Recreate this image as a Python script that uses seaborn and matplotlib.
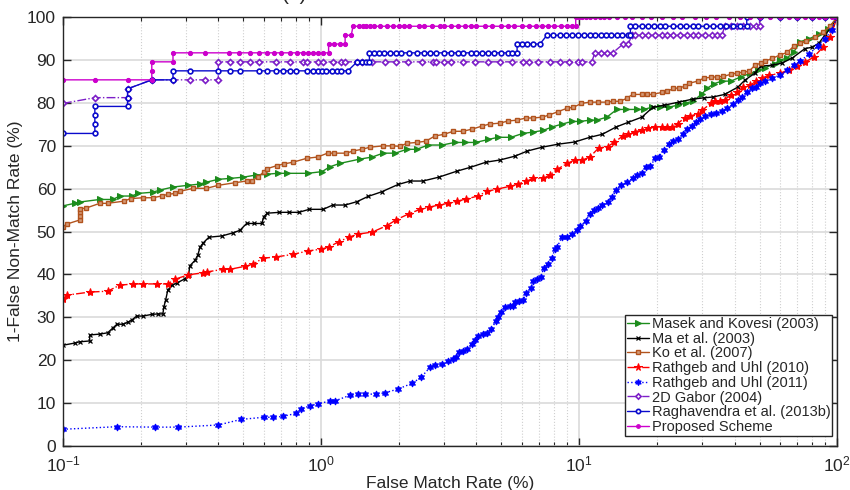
import matplotlib
matplotlib.use("Agg")
import matplotlib.pyplot as plt
import seaborn as sns
import numpy as np
from matplotlib.ticker import LogLocator, NullFormatter

# ROC-style operating points: (False Match Rate %, 1-False Non-Match Rate %)
masek = [(0.1, 56.0), (0.111, 56.6), (0.116, 56.9), (0.139, 57.5), (0.156, 57.5), (0.166, 58.3),
         (0.185, 58.3), (0.195, 58.9), (0.223, 59.2), (0.238, 59.7), (0.267, 60.4), (0.305, 60.8),
         (0.34, 61.1), (0.358, 61.5), (0.40, 62.2), (0.443, 62.4), (0.5, 62.7), (0.56, 63.2),
         (0.62, 63.4), (0.68, 63.6), (0.74, 63.6), (0.89, 63.6), (1.01, 64.0), (1.08, 65.1),
         (1.18, 65.9), (1.41, 66.9), (1.58, 67.4), (1.74, 68.3), (1.94, 68.3), (2.15, 69.2),
         (2.35, 69.2), (2.6, 70.2), (2.95, 70.2), (3.3, 70.8), (3.6, 70.8), (3.98, 70.8),
         (4.45, 71.5), (4.85, 72.0), (5.45, 72.0), (6.05, 72.9), (6.6, 73.2), (7.25, 73.6),
         (7.85, 74.4), (8.6, 75.1), (9.4, 75.7), (10.1, 75.7), (11.0, 76.0), (11.7, 76.0),
         (12.8, 76.7), (14.0, 78.5), (15.2, 78.5), (16.7, 78.5), (17.8, 78.5), (19.1, 79.0),
         (20.6, 79.0), (22.2, 79.0), (24.1, 79.5), (25.9, 80.0), (27.6, 80.4), (30.0, 82.2),
         (31.3, 83.4), (33.3, 84.5), (35.7, 85.1), (38.7, 85.1), (42.3, 86.1), (46.0, 86.9),
         (49.3, 87.6), (52.6, 88.2), (57.3, 89.2), (60.0, 90.0), (64.0, 90.5), (68.0, 92.0),
         (72.0, 94.3), (78.0, 95.0), (85.0, 96.0), (92.0, 97.3), (100.0, 100.0)]

ma = [(0.1, 23.5), (0.111, 24.0), (0.116, 24.3), (0.127, 24.5), (0.127, 25.9), (0.139, 26.1),
      (0.149, 26.4), (0.156, 27.5), (0.162, 28.4), (0.171, 28.4), (0.179, 28.9), (0.185, 29.4),
      (0.193, 30.3), (0.204, 30.3), (0.221, 30.7), (0.234, 30.8), (0.244, 30.8), (0.246, 32.4),
      (0.25, 34.0), (0.255, 36.4), (0.265, 37.5), (0.276, 38.0), (0.297, 39.0), (0.307, 39.9),
      (0.31, 42.0), (0.325, 43.3), (0.333, 44.5), (0.34, 46.4), (0.35, 47.4), (0.368, 48.7),
      (0.414, 49.0), (0.455, 49.7), (0.485, 50.3), (0.515, 51.9), (0.548, 51.9), (0.59, 51.9),
      (0.6, 53.5), (0.62, 54.3), (0.69, 54.5), (0.75, 54.5), (0.82, 54.5), (0.90, 55.2),
      (1.02, 55.2), (1.11, 56.2), (1.24, 56.2), (1.38, 57.0), (1.52, 58.2), (1.72, 59.3),
      (1.99, 61.0), (2.22, 61.8), (2.48, 61.8), (2.86, 62.7), (3.36, 64.1), (3.79, 65.0),
      (4.36, 66.2), (4.93, 66.7), (5.64, 67.6), (6.3, 68.8), (7.2, 69.7), (8.3, 70.4),
      (9.6, 70.9), (11.0, 72.0), (12.3, 72.7), (13.9, 74.4), (15.5, 75.5), (17.5, 76.7),
      (19.3, 79.0), (21.4, 79.5), (24.3, 80.2), (27.5, 80.9), (30.4, 81.2), (33.0, 81.4),
      (36.6, 82.0), (41.2, 83.7), (43.8, 85.3), (47.8, 86.9), (50.5, 88.6), (56.0, 88.8),
      (61.0, 89.3), (67.0, 90.5), (75.0, 92.7), (80.0, 93.0), (85.0, 94.0), (90.0, 96.0),
      (95.0, 97.8), (100.0, 100.0)]

ko = [(0.1, 51.1), (0.104, 51.8), (0.116, 52.7), (0.116, 53.6), (0.116, 54.6), (0.116, 55.3),
      (0.123, 55.5), (0.139, 56.6), (0.149, 56.6), (0.172, 57.1), (0.183, 57.7), (0.204, 57.9),
      (0.223, 57.9), (0.241, 58.3), (0.255, 58.7), (0.272, 58.9), (0.284, 59.4), (0.32, 60.1),
      (0.36, 60.1), (0.40, 60.8), (0.463, 61.4), (0.515, 61.8), (0.54, 61.8), (0.57, 62.8),
      (0.6, 63.9), (0.62, 64.7), (0.675, 65.4), (0.72, 65.8), (0.78, 66.2), (0.88, 67.1),
      (0.97, 67.4), (1.06, 68.3), (1.12, 68.3), (1.25, 68.3), (1.33, 68.8), (1.44, 69.2),
      (1.55, 69.7), (1.74, 70.0), (1.89, 70.0), (2.02, 69.9), (2.15, 70.6), (2.35, 70.8),
      (2.55, 71.1), (2.76, 72.3), (3.0, 72.7), (3.25, 73.4), (3.55, 73.4), (3.84, 73.9),
      (4.2, 74.6), (4.5, 75.1), (4.93, 75.3), (5.3, 75.8), (5.75, 76.0), (6.2, 76.5),
      (6.65, 76.5), (7.2, 76.7), (7.65, 77.2), (8.3, 78.0), (9.0, 78.8), (9.5, 79.0),
      (10.2, 79.9), (11.0, 80.2), (11.8, 80.2), (12.8, 80.2), (13.5, 80.4), (14.4, 80.4),
      (15.3, 81.1), (16.1, 82.0), (17.5, 82.0), (18.3, 82.0), (19.3, 82.0), (21.0, 82.5),
      (21.9, 82.7), (23.2, 83.4), (24.3, 83.5), (25.7, 83.9), (26.7, 84.6), (28.8, 85.1),
      (30.4, 85.8), (32.3, 86.0), (34.3, 86.1), (36.2, 86.2), (38.7, 86.7), (41.0, 87.0),
      (43.3, 87.2), (45.5, 87.4), (48.0, 88.8), (50.5, 89.3), (52.7, 89.8), (56.0, 90.4),
      (60.0, 91.2), (64.0, 91.8), (68.0, 93.3), (72.0, 94.0), (76.0, 94.5), (82.0, 95.3),
      (88.0, 96.5), (94.0, 98.0), (100.0, 100.0)]

rathgeb2010 = [(0.1, 34.3), (0.104, 35.2), (0.127, 35.9), (0.149, 36.1), (0.166, 37.5), (0.187, 37.8),
               (0.204, 37.8), (0.231, 37.8), (0.255, 37.8), (0.272, 38.9), (0.305, 39.9), (0.348, 40.4),
               (0.361, 40.6), (0.417, 41.2), (0.443, 41.2), (0.506, 41.9), (0.545, 42.4), (0.596, 43.8),
               (0.67, 44.1), (0.78, 44.7), (0.89, 45.5), (1.0, 45.9), (1.07, 46.4), (1.17, 47.6),
               (1.28, 48.7), (1.39, 49.4), (1.58, 49.9), (1.8, 51.4), (1.96, 52.8), (2.2, 54.2),
               (2.42, 55.2), (2.62, 55.7), (2.86, 56.2), (3.1, 56.6), (3.36, 57.1), (3.65, 57.6),
               (4.05, 58.3), (4.4, 59.4), (4.8, 59.9), (5.42, 60.6), (5.8, 61.1), (6.25, 61.8),
               (6.65, 62.4), (7.25, 62.4), (7.7, 63.2), (8.2, 64.5), (9.0, 65.9), (9.6, 66.7),
               (10.3, 66.7), (11.0, 67.4), (11.9, 69.5), (12.9, 69.8), (13.7, 70.9), (14.8, 72.3),
               (15.5, 72.8), (16.5, 73.3), (17.5, 73.7), (18.5, 74.1), (19.7, 74.4), (21.0, 74.4),
               (21.9, 74.4), (22.9, 74.5), (24.1, 75.2), (25.7, 76.6), (26.8, 76.9), (28.8, 77.5),
               (30.0, 78.3), (32.3, 79.9), (33.5, 80.5), (35.0, 80.5), (36.6, 80.8), (38.7, 81.8),
               (41.0, 82.5), (43.2, 83.7), (46.0, 84.1), (48.4, 85.1), (51.0, 85.8), (54.5, 86.5),
               (60.0, 86.9), (65.0, 87.8), (70.0, 88.6), (75.0, 89.5), (81.0, 90.7), (88.0, 93.0),
               (94.0, 95.5), (100.0, 100.0)]

rathgeb2011 = [(0.1, 3.9), (0.162, 4.5), (0.227, 4.4), (0.279, 4.4), (0.40, 4.9), (0.49, 6.2),
               (0.60, 6.7), (0.65, 6.7), (0.71, 6.9), (0.80, 7.6), (0.84, 8.7), (0.91, 9.4),
               (0.97, 9.8), (1.08, 10.5), (1.13, 10.5), (1.29, 11.8), (1.39, 12.1), (1.48, 12.1),
               (1.64, 12.1), (1.77, 12.4), (1.99, 13.3), (2.25, 14.6), (2.44, 16.0), (2.65, 18.4),
               (2.76, 18.9), (2.95, 19.1), (3.11, 19.8), (3.25, 20.3), (3.33, 20.8), (3.43, 21.9),
               (3.55, 22.1), (3.68, 22.6), (3.84, 23.7), (3.95, 24.7), (4.07, 25.6), (4.25, 26.1),
               (4.41, 26.3), (4.56, 27.2), (4.77, 29.2), (4.86, 30.0), (5.0, 31.2), (5.17, 32.4),
               (5.42, 32.7), (5.55, 32.7), (5.65, 33.6), (5.85, 33.8), (6.05, 34.0), (6.25, 35.7),
               (6.5, 36.8), (6.65, 38.5), (6.88, 38.9), (7.1, 39.5), (7.3, 41.5), (7.55, 42.4),
               (7.85, 43.8), (8.05, 45.9), (8.2, 46.4), (8.6, 48.7), (8.98, 48.7), (9.4, 49.4),
               (9.78, 50.3), (10.1, 51.3), (10.6, 52.4), (11.0, 54.1), (11.4, 55.0), (11.8, 55.5),
               (12.3, 56.2), (12.9, 56.9), (13.4, 58.0), (13.9, 59.6), (14.5, 60.8), (15.3, 61.5),
               (16.1, 62.4), (16.8, 63.2), (17.5, 63.7), (18.1, 65.0), (18.9, 65.3), (19.7, 67.1),
               (20.3, 67.4), (21.3, 69.0), (22.2, 70.4), (23.0, 71.1), (24.1, 71.5), (25.2, 72.7),
               (26.1, 73.9), (27.3, 74.6), (28.4, 75.5), (29.5, 76.2), (30.8, 76.9), (32.3, 77.4),
               (34.0, 77.6), (35.8, 78.1), (37.4, 78.8), (39.3, 79.7), (41.2, 80.7), (42.7, 81.4),
               (44.6, 82.5), (46.6, 83.4), (48.4, 83.7), (50.3, 84.6), (52.7, 85.1), (56.0, 85.8),
               (60.0, 86.5), (64.0, 87.6), (68.0, 88.8), (72.0, 89.8), (78.0, 91.5), (84.0, 93.3),
               (90.0, 95.0), (95.0, 97.0), (100.0, 100.0)]

gabor = [(0.1, 79.9), (0.133, 81.25), (0.178, 81.25), (0.178, 83.3), (0.221, 85.4), (0.267, 85.4),
         (0.31, 85.4), (0.355, 85.4), (0.40, 85.4), (0.40, 89.6), (0.443, 89.6), (0.485, 89.6),
         (0.53, 89.6), (0.575, 89.6), (0.67, 89.6), (0.76, 89.6), (0.85, 89.6), (0.88, 89.6),
         (0.97, 89.6), (1.02, 89.6), (1.11, 89.6), (1.2, 89.6), (1.24, 89.6), (1.38, 89.6),
         (1.44, 89.6), (1.58, 89.6), (1.77, 89.6), (1.96, 89.6), (2.18, 89.6), (2.46, 89.6),
         (2.72, 89.6), (2.8, 89.6), (3.0, 89.6), (3.2, 89.6), (3.55, 89.6), (3.95, 89.6),
         (4.45, 89.6), (4.93, 89.6), (5.5, 89.6), (6.05, 89.6), (6.4, 89.6), (6.9, 89.6),
         (7.7, 89.6), (8.4, 89.6), (9.1, 89.6), (9.9, 89.6), (10.3, 89.6), (11.2, 89.6),
         (11.5, 91.7), (12.2, 91.7), (12.8, 91.7), (13.5, 91.7), (14.8, 93.75), (15.5, 93.75),
         (16.0, 95.8), (16.5, 95.8), (17.5, 95.8), (18.5, 95.8), (19.7, 95.8), (21.0, 95.8),
         (21.9, 95.8), (23.1, 95.8), (24.6, 95.8), (26.2, 95.8), (27.7, 95.8), (28.9, 95.8),
         (30.8, 95.8), (32.8, 95.8), (34.3, 95.8), (35.8, 95.8), (36.6, 97.9), (38.7, 97.9),
         (41.0, 97.9), (43.3, 97.9), (46.0, 97.9), (48.4, 97.9), (50.0, 97.9), (50.0, 100.0),
         (60.0, 100.0), (70.0, 100.0), (80.0, 100.0), (90.0, 100.0), (100.0, 100.0)]

raghavendra = [(0.1, 72.9), (0.133, 72.9), (0.133, 75.0), (0.133, 77.1), (0.133, 79.2), (0.178, 79.2),
               (0.178, 81.25), (0.178, 83.3), (0.221, 85.4), (0.267, 85.4), (0.267, 87.5), (0.31, 87.5),
               (0.40, 87.5), (0.443, 87.5), (0.485, 87.5), (0.575, 87.5), (0.62, 87.5), (0.67, 87.5),
               (0.71, 87.5), (0.76, 87.5), (0.80, 87.5), (0.88, 87.5), (0.93, 87.5), (0.97, 87.5),
               (1.01, 87.5), (1.05, 87.5), (1.1, 87.5), (1.15, 87.5), (1.2, 87.5), (1.27, 87.5),
               (1.38, 89.6), (1.44, 89.6), (1.5, 89.6), (1.54, 89.6), (1.54, 91.7), (1.6, 91.7),
               (1.68, 91.7), (1.75, 91.7), (1.85, 91.7), (1.95, 91.7), (2.05, 91.7), (2.2, 91.7),
               (2.35, 91.7), (2.5, 91.7), (2.65, 91.7), (2.8, 91.7), (3.0, 91.7), (3.2, 91.7),
               (3.4, 91.7), (3.55, 91.7), (3.8, 91.7), (4.0, 91.7), (4.2, 91.7), (4.45, 91.7),
               (4.7, 91.7), (5.0, 91.7), (5.3, 91.7), (5.5, 91.7), (5.75, 91.7), (5.75, 93.75),
               (6.0, 93.75), (6.3, 93.75), (6.6, 93.75), (7.05, 93.75), (7.5, 95.8), (7.9, 95.8),
               (8.4, 95.8), (8.9, 95.8), (9.4, 95.8), (9.9, 95.8), (10.4, 95.8), (11.0, 95.8),
               (11.5, 95.8), (12.1, 95.8), (12.7, 95.8), (13.3, 95.8), (14.0, 95.8), (14.7, 95.8),
               (15.5, 95.8), (15.8, 95.8), (15.8, 97.9), (16.5, 97.9), (17.5, 97.9), (18.5, 97.9),
               (19.5, 97.9), (20.5, 97.9), (21.5, 97.9), (23.0, 97.9), (24.5, 97.9), (26.0, 97.9),
               (27.5, 97.9), (29.0, 97.9), (31.0, 97.9), (33.0, 97.9), (35.0, 97.9), (37.0, 97.9),
               (39.5, 97.9), (42.0, 97.9), (44.6, 97.9), (44.6, 100.0), (50.0, 100.0), (60.0, 100.0),
               (70.0, 100.0), (80.0, 100.0), (90.0, 100.0), (100.0, 100.0)]

proposed = [(0.1, 85.4), (0.133, 85.4), (0.178, 85.4), (0.221, 85.4), (0.221, 87.5), (0.221, 89.6),
            (0.267, 89.6), (0.267, 91.7), (0.31, 91.7), (0.355, 91.7), (0.44, 91.7), (0.48, 91.7),
            (0.53, 91.7), (0.575, 91.7), (0.62, 91.7), (0.66, 91.7), (0.70, 91.7), (0.76, 91.7),
            (0.81, 91.7), (0.85, 91.7), (0.89, 91.7), (0.93, 91.7), (0.97, 91.7), (1.02, 91.7),
            (1.07, 91.7), (1.07, 93.75), (1.12, 93.75), (1.18, 93.75), (1.24, 93.75), (1.24, 95.8),
            (1.31, 95.8), (1.33, 97.9), (1.4, 97.9), (1.45, 97.9), (1.5, 97.9), (1.55, 97.9),
            (1.6, 97.9), (1.7, 97.9), (1.8, 97.9), (1.9, 97.9), (2.0, 97.9), (2.1, 97.9),
            (2.2, 97.9), (2.4, 97.9), (2.5, 97.9), (2.7, 97.9), (2.9, 97.9), (3.0, 97.9),
            (3.2, 97.9), (3.4, 97.9), (3.6, 97.9), (3.8, 97.9), (4.0, 97.9), (4.3, 97.9),
            (4.6, 97.9), (5.0, 97.9), (5.3, 97.9), (5.6, 97.9), (6.0, 97.9), (6.4, 97.9),
            (6.8, 97.9), (7.2, 97.9), (7.6, 97.9), (8.0, 97.9), (8.5, 97.9), (9.0, 97.9),
            (9.4, 97.9), (9.7, 97.9), (9.7, 100.0), (10.0, 100.0), (10.3, 100.0), (10.6, 100.0),
            (11.0, 100.0), (11.5, 100.0), (12.0, 100.0), (12.5, 100.0), (13.0, 100.0), (14.0, 100.0),
            (15.0, 100.0), (16.0, 100.0), (17.5, 100.0), (19.0, 100.0), (21.0, 100.0), (23.0, 100.0),
            (25.0, 100.0), (28.0, 100.0), (31.0, 100.0), (34.0, 100.0), (38.0, 100.0), (42.0, 100.0),
            (46.0, 100.0), (50.0, 100.0), (55.0, 100.0), (60.0, 100.0), (65.0, 100.0), (70.0, 100.0),
            (75.0, 100.0), (80.0, 100.0), (85.0, 100.0), (90.0, 100.0), (95.0, 100.0), (100.0, 100.0)]

series_labels = ["Masek and Kovesi (2003)", "Ma et al. (2003)", "Ko et al. (2007)",
                 "Rathgeb and Uhl (2010)", "Rathgeb and Uhl (2011)", "2D Gabor (2004)",
                 "Raghavendra et al. (2013b)", "Proposed Scheme"]
series_data = [masek, ma, ko, rathgeb2010, rathgeb2011, gabor, raghavendra, proposed]

y_ticks = list(range(0, 101, 10))

sns.set_style("ticks")
plt.rcParams["font.family"] = ["Liberation Sans", "DejaVu Sans"]
plt.rcParams["mathtext.fontset"] = "custom"
plt.rcParams["mathtext.rm"] = "Liberation Sans"
plt.rcParams["mathtext.it"] = "Liberation Sans"

styles = [
    dict(color="#1c8c1c", linestyle="-", marker=">", markersize=4.2, markerfacecolor="#1c8c1c"),
    dict(color="black", linestyle="-", marker="x", markersize=3.0, markeredgewidth=0.9),
    dict(color="#b2531d", linestyle="-", marker="s", markersize=3.4, markerfacecolor="#d49a78",
         markeredgewidth=1.0),
    dict(color="#ff0000", linestyle="-.", marker="*", markersize=6, markerfacecolor="#ff0000"),
    dict(color="#0000ff", linestyle=":", marker=(6, 1, 0), markersize=5, markerfacecolor="#0000ff"),
    dict(color="#7d1fc8", linestyle="-.", marker="D", markersize=3.0, markerfacecolor="white",
         markeredgewidth=1.2),
    dict(color="#0a0acc", linestyle="-", marker="o", markersize=3.4, markerfacecolor="white",
         markeredgewidth=1.2),
    dict(color="#cc00cc", linestyle="-", marker="o", markersize=3.0, markerfacecolor="#cc00cc"),
]

fig = plt.figure(figsize=(8.5, 4.9), dpi=100)
ax = fig.add_axes([0.074, 0.0898, 0.911, 0.875])

for label, pts, st in zip(series_labels, series_data, styles):
    xs = [p[0] for p in pts]
    ys = [p[1] for p in pts]
    sns.lineplot(x=xs, y=ys, ax=ax, sort=False, estimator=None, label=label,
                 linewidth=1.0, markeredgecolor=st["color"], **st)

ax.set_xscale("log")
ax.set_xlim(0.1, 100)
ax.set_ylim(0, 100)
ax.set_yticks(y_ticks)
ax.xaxis.set_minor_locator(LogLocator(base=10, subs=np.arange(2, 10)))
ax.xaxis.set_minor_formatter(NullFormatter())

ax.grid(which="major", color="#dadada", linewidth=1.2, linestyle="-")
ax.grid(which="minor", axis="x", color="#cfcfcf", linewidth=0.8, linestyle=":")
ax.set_axisbelow(True)

ax.tick_params(which="both", direction="in", top=True, right=True, colors="#262626",
               labelsize=12.5, labelcolor="#262626")
ax.tick_params(which="major", length=6, width=1.0)
ax.tick_params(which="minor", length=3, width=0.8)
ax.tick_params(axis="x", which="major", pad=6)
ax.tick_params(axis="y", which="major", pad=5)
for sp in ax.spines.values():
    sp.set_color("#262626")
    sp.set_linewidth(1.0)
    sp.set_visible(True)

ax.set_xlabel("False Match Rate (%)", fontsize=12.5, color="#262626", labelpad=1)
ax.set_ylabel("1-False Non-Match Rate (%)", fontsize=12.5, color="#262626", labelpad=3)

leg = ax.legend(loc="lower right", bbox_to_anchor=(0.997, 0.017), fontsize=10.5,
                frameon=True, fancybox=False, edgecolor="#262626", framealpha=1,
                borderpad=0.12, labelspacing=0.05, handlelength=1.5, handletextpad=0.2,
                borderaxespad=0.2, markerscale=0.9)
leg.get_frame().set_linewidth(1.0)

fig.text(0.347, 1.0, "(a)", ha="center", va="baseline", fontsize=15, color="#262626")

fig.savefig("out.png", dpi=100)
